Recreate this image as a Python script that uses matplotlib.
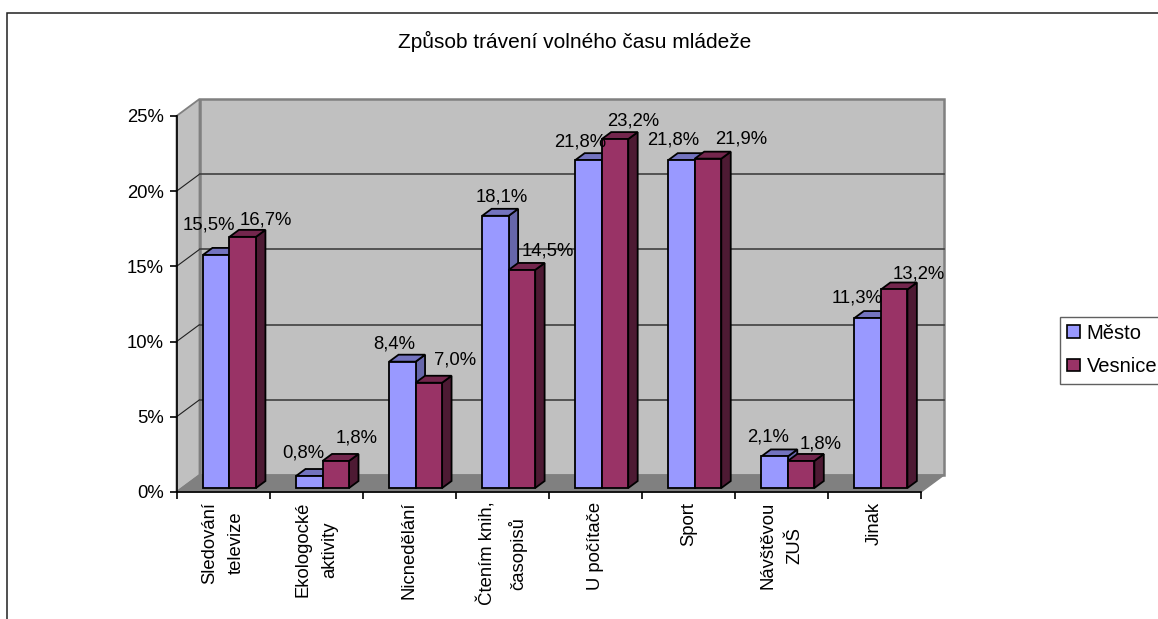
import matplotlib
matplotlib.use("Agg")
import matplotlib.pyplot as plt
from matplotlib.patches import Polygon, Patch, Rectangle

plt.rcParams['font.family'] = ['Liberation Sans', 'DejaVu Sans']

categories = ["Sledování\ntelevize", "Ekologocké\naktivity", "Nicnedělání", "Čtením knih,\nčasopisů",
              "U počítače", "Sport", "Návštěvou\nZUŠ", "Jinak"]
mesto = [15.5, 0.8, 8.4, 18.1, 21.8, 21.8, 2.1, 11.3]
vesnice = [16.7, 1.8, 7.0, 14.5, 23.2, 21.9, 1.8, 13.2]
title = "Způsob trávení volného času mládeže"
yticks = [0, 5, 10, 15, 20, 25]

# label offsets in pixels from the front top centre of each bar
mesto_off = [(-7, 30), (-6, 23), (-8, 18), (6, 19), (-8, 18), (-8, 20), (-7, 19), (-11, 20)]
vesnice_off = [(23, 17), (21, 23), (26, 23), (26, 19), (18, 18), (33, 20), (20, 17), (25, 15)]

W, H = 1158, 619
fig = plt.figure(figsize=(W / 100, H / 100), dpi=100, facecolor="white")
L, R, T, B = 176.5, 921.0, 116.0, 492.0
ax = fig.add_axes([L / W, 1 - B / H, (R - L) / W, (B - T) / H])
ax.set_xlim(0, 8)
ax.set_ylim(0, 25)
ax.patch.set_visible(False)

FS = 13.3
DX = 23 / ((R - L) / 8)
DY = 17 / ((B - T) / 25)
T0, T1 = 0.235, 0.645
BW = 26.5 / ((R - L) / 8)
PAD = 0.2266


def P(x, y, t):
    return (x + DX * t, y + DY * t)


def poly(pts, fc, ec="none", lw=0, z=1):
    ax.add_patch(Polygon(pts, closed=True, facecolor=fc, edgecolor=ec, linewidth=lw,
                         zorder=z, clip_on=False, joinstyle="miter"))


WALL, EDGE, FLOOR = "#C0C0C0", "#808080", "#808080"
poly([P(0, 0, 0), P(0, 0, 1), P(0, 25, 1), P(0, 25, 0)], WALL, EDGE, 1.3, 1)
poly([P(0, 0, 1), P(8, 0, 1), P(8, 25, 1), P(0, 25, 1)], WALL, EDGE, 1.8, 1)
poly([P(0, 0, 0), P(8, 0, 0), P(8, 0, 1), P(0, 0, 1)], FLOOR, EDGE, 1.0, 1.5)
for v in yticks[1:-1]:
    a, b, c = P(0, v, 0), P(0, v, 1), P(8, v, 1)
    ax.plot([a[0], b[0]], [a[1], b[1]], color="#202020", lw=0.8, zorder=2, clip_on=False)
    ax.plot([b[0], c[0]], [b[1], c[1]], color="#404040", lw=1.2, zorder=2, clip_on=False)


def bar3d(x, v, front, top, side, z):
    x0, x1 = x, x + BW
    ec, lw = "black", 1.3
    poly([P(x1, 0, T0), P(x1, 0, T1), P(x1, v, T1), P(x1, v, T0)], side, ec, lw, z)
    poly([P(x0, v, T0), P(x1, v, T0), P(x1, v, T1), P(x0, v, T1)], top, ec, lw, z)
    ax.bar(x0 + DX * T0, v, BW, bottom=DY * T0, align="edge", color=front, edgecolor=ec,
           linewidth=lw, zorder=z, clip_on=False)


for i, (m, s) in enumerate(zip(mesto, vesnice)):
    z = 3 + i
    bar3d(i + PAD, m, "#9999FF", "#7373BF", "#6666AA", z)
    bar3d(i + PAD + BW, s, "#993366", "#73264D", "#4D1A33", z + 0.5)
    for x, v, off, in ((i + PAD, m, mesto_off[i]), (i + PAD + BW, s, vesnice_off[i])):
        cx, cy = P(x + BW / 2, v, T0)
        ax.annotate(f"{v:.1f}%".replace(".", ","), xy=(cx, cy), xytext=off,
                    textcoords="offset pixels", ha="center", va="center", fontsize=FS,
                    color="black", zorder=20, annotation_clip=False)

for s in ("top", "right"):
    ax.spines[s].set_visible(False)
for s in ("left", "bottom"):
    ax.spines[s].set_linewidth(1.2)
    ax.spines[s].set_color("black")
    ax.spines[s].set_zorder(15)
ax.set_yticks(yticks)
ax.set_yticklabels([f"{v}%" for v in yticks], fontsize=FS)
ax.tick_params(axis="y", length=5, width=1.2, pad=4)
ax.set_xticks(range(9))
ax.set_xticklabels([])
ax.tick_params(axis="x", which="major", length=5, width=1.2)
ax.set_xticks([i + 0.5 for i in range(8)], minor=True)
ax.set_xticklabels(categories, minor=True, rotation=90, fontsize=FS, ha="center", va="top",
                   multialignment="center", linespacing=1.75)
ax.tick_params(axis="x", which="minor", length=0, pad=7)

fig.text(575 / W, 1 - 41 / H, title, ha="center", va="center", fontsize=15, color="black")

# chart frame (extends past the image on the right and bottom)
fig.add_artist(Rectangle((7.5 / W, -0.1), 1.2, 1.1 - 13 / H, transform=fig.transFigure,
                         fill=False, edgecolor="#202020", linewidth=1.1))

handles = [Patch(facecolor="#9999FF", edgecolor="black", linewidth=1.2),
           Patch(facecolor="#993366", edgecolor="black", linewidth=1.2)]
leg = fig.legend(handles, ["Město", "Vesnice"], loc="upper left",
                 bbox_to_anchor=(1060 / W, 1 - 316.5 / H), fontsize=14.5, frameon=True,
                 fancybox=False, edgecolor="#606060", framealpha=1, borderaxespad=0,
                 borderpad=0.37, handlelength=0.6, handleheight=0.6, handletextpad=0.35,
                 labelspacing=0.7)
leg.get_frame().set_linewidth(1.0)

fig.savefig("out.png", dpi=100, facecolor="white")
